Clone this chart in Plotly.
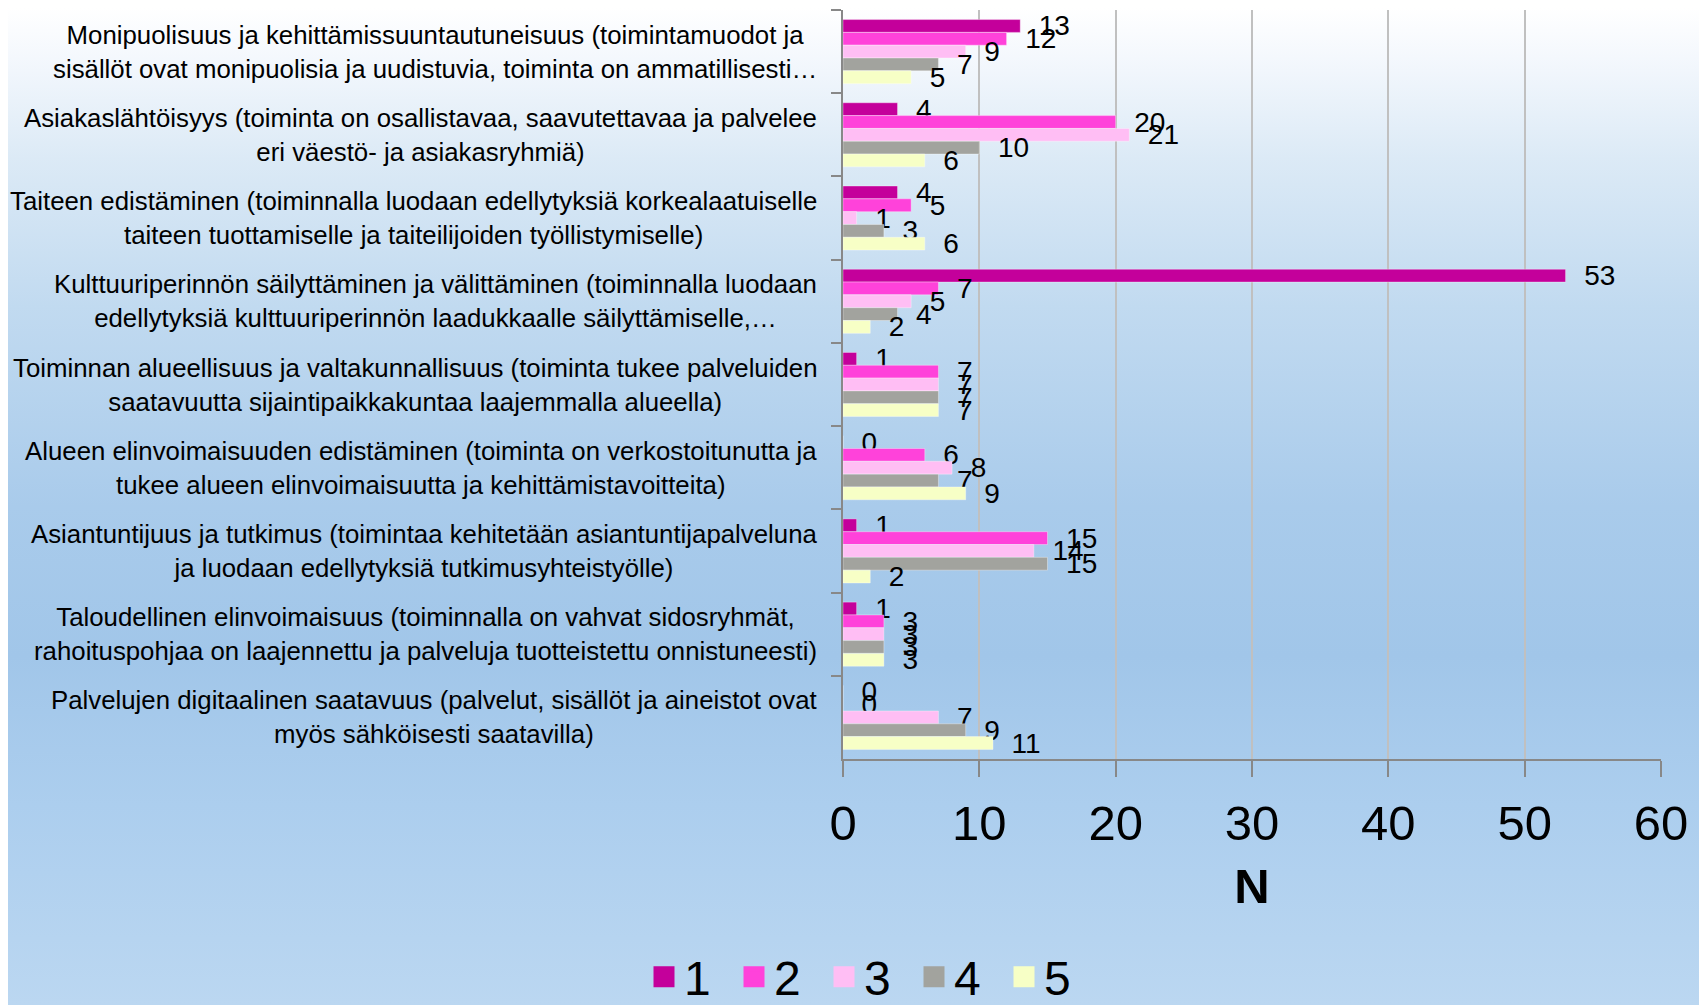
import base64
import plotly.graph_objects as go

categories = [
    "Monipuolisuus ja kehittämissuuntautuneisuus (toimintamuodot ja<br>sisällöt ovat monipuolisia ja uudistuvia, toiminta on ammatillisesti…",
    "Asiakaslähtöisyys (toiminta on osallistavaa, saavutettavaa ja palvelee<br>eri väestö- ja asiakasryhmiä)",
    "Taiteen edistäminen (toiminnalla luodaan edellytyksiä korkealaatuiselle<br>taiteen tuottamiselle ja taiteilijoiden työllistymiselle)",
    "Kulttuuriperinnön säilyttäminen ja välittäminen (toiminnalla luodaan<br>edellytyksiä kulttuuriperinnön laadukkaalle säilyttämiselle,…",
    "Toiminnan alueellisuus ja valtakunnallisuus (toiminta tukee palveluiden<br>saatavuutta sijaintipaikkakuntaa laajemmalla alueella)",
    "Alueen elinvoimaisuuden edistäminen (toiminta on verkostoitunutta ja<br>tukee alueen elinvoimaisuutta ja kehittämistavoitteita)",
    "Asiantuntijuus ja tutkimus (toimintaa kehitetään asiantuntijapalveluna<br>ja luodaan edellytyksiä tutkimusyhteistyölle)",
    "Taloudellinen elinvoimaisuus (toiminnalla on vahvat sidosryhmät,<br>rahoituspohjaa on laajennettu ja palveluja tuotteistettu onnistuneesti)",
    "Palvelujen digitaalinen saatavuus (palvelut, sisällöt ja aineistot ovat<br>myös sähköisesti saatavilla)",
]

series_names = ["1", "2", "3", "4", "5"]
s1 = [13, 4, 4, 53, 1, 0, 1, 1, 0]
s2 = [12, 20, 5, 7, 7, 6, 15, 3, 0]
s3 = [9, 21, 1, 5, 7, 8, 14, 3, 7]
s4 = [7, 10, 3, 4, 7, 7, 15, 3, 9]
s5 = [5, 6, 6, 2, 7, 9, 2, 3, 11]
series_values = [s1, s2, s3, s4, s5]
colors = ["#C4009B", "#FF42DA", "#FFBEF4", "#A2A39E", "#F7FFC6"]

x_ticks = [0, 10, 20, 30, 40, 50, 60]
x_title = "N"

FONT = "Liberation Sans, Arial, sans-serif"

# page has an 8px body margin; figure is sized to fit the window
W, H = 1699, 997
ML, MR, MT, MB = 835, 46, 2, 246
pw = W - ML - MR
ph = H - MT - MB

fig = go.Figure()
for name, vals, col in zip(series_names, series_values, colors):
    fig.add_trace(go.Bar(
        y=categories, x=vals, orientation="h", name=name,
        marker=dict(color=col, line=dict(color="rgba(255,255,255,0.35)", width=1)),
        texttemplate="\u00a0\u00a0%{x}", textposition="outside",
        constraintext="none", cliponaxis=False,
        textfont=dict(family=FONT, size=28, color="black"),
        showlegend=False, hoverinfo="x+name",
    ))
    fig.add_trace(go.Scatter(
        x=[None], y=[None], mode="markers", name=name,
        marker=dict(symbol="square", size=16, color=col, line=dict(color=col, width=5)),
        showlegend=True,
    ))

for cat in categories:
    fig.add_annotation(
        x=0, xref="paper", y=cat, yref="y", text=cat, showarrow=False,
        xanchor="right", yanchor="middle", align="center", xshift=-24,
        font=dict(family=FONT, size=25.8, color="black"),
    )

svg = f'''<svg xmlns="http://www.w3.org/2000/svg" width="{W}" height="{H}" preserveAspectRatio="none" viewBox="0 0 {W} {H}">
<defs><linearGradient id="g" x1="0" y1="0" x2="0" y2="1">
<stop offset="0" stop-color="#FFFFFF"/>
<stop offset="0.05" stop-color="#F4F8FD"/>
<stop offset="0.15" stop-color="#DCEAF6"/>
<stop offset="0.3" stop-color="#C1DAF0"/>
<stop offset="0.5" stop-color="#A9CBEB"/>
<stop offset="0.65" stop-color="#A1C6E9"/>
<stop offset="0.8" stop-color="#ACCEEE"/>
<stop offset="1" stop-color="#BBD7F1"/>
</linearGradient></defs>
<rect x="0" y="0" width="{W}" height="{H}" fill="url(#g)"/></svg>'''
src = "data:image/svg+xml;base64," + base64.b64encode(svg.encode()).decode()

fig.add_layout_image(dict(
    source=src, xref="paper", yref="paper",
    x=-ML / pw, y=1 + MT / ph, sizex=W / pw, sizey=H / ph,
    xanchor="left", yanchor="top", sizing="stretch", layer="below",
))

fig.update_layout(
    width=W, height=H, autosize=False,
    margin=dict(l=ML, r=MR, t=MT, b=MB, pad=0, autoexpand=False),
    paper_bgcolor="#C8DEF2", plot_bgcolor="rgba(0,0,0,0)",
    barmode="group", bargap=0.23, bargroupgap=0,
    font=dict(family=FONT, color="black"),
    xaxis=dict(
        range=[0, 60], tickvals=x_ticks, tickfont=dict(size=49), ticklabelstandoff=4,
        ticks="outside", ticklen=16, tickwidth=2, tickcolor="#888888",
        showline=True, linewidth=2, linecolor="#888888",
        showgrid=True, gridcolor="#C0C0C0", gridwidth=2, zeroline=False,
        title=dict(text="<b>" + x_title + "</b>", font=dict(size=49), standoff=20),
    ),
    yaxis=dict(
        type="category", autorange="reversed", showticklabels=False,
        ticks="outside", tickson="boundaries", ticklen=10, tickwidth=2, tickcolor="#888888",
        showline=True, linewidth=2, linecolor="#888888", showgrid=False,
    ),
    legend=dict(
        orientation="h", xref="container", yref="container",
        x=861 / W, xanchor="center", y=(H - 969) / H, yanchor="middle",
        font=dict(size=48), entrywidth=45, bgcolor="rgba(0,0,0,0)",
    ),
)

fig.write_html("out.html")
